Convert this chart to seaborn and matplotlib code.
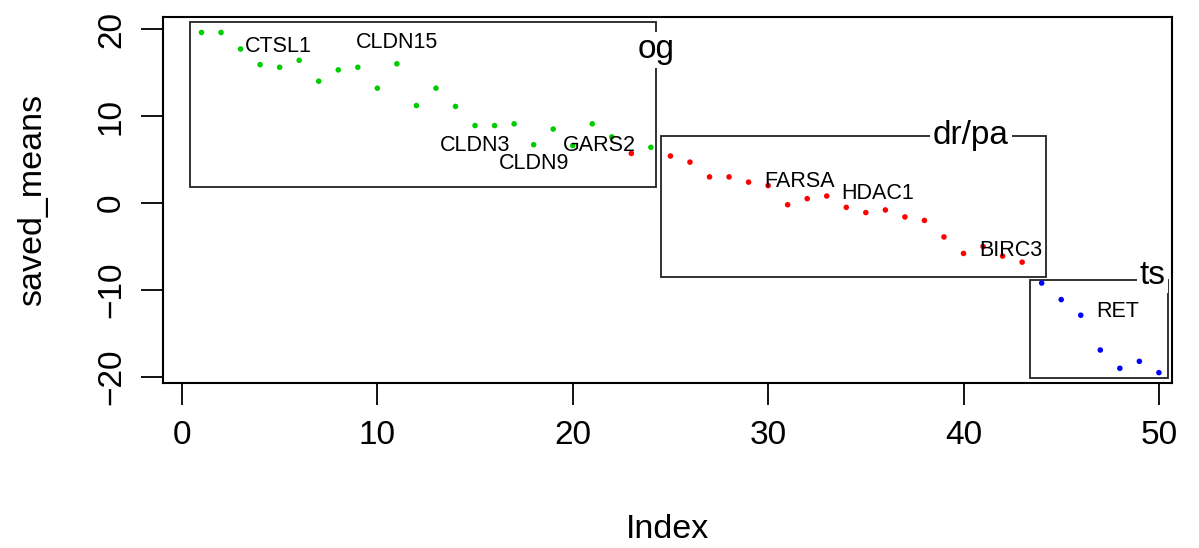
import numpy as np
import pandas as pd
import matplotlib
matplotlib.use("Agg")
import matplotlib.pyplot as plt
from matplotlib.patches import Rectangle
import seaborn as sns

# values (index 1..50)
saved_means = [19.6, 19.6, 17.7, 15.9, 15.6, 16.4, 14.0, 15.3, 15.6, 13.2,
               16.0, 11.2, 13.2, 11.1, 8.9, 8.9, 9.1, 6.7, 8.5, 6.6,
               9.1, 7.6, 5.7, 6.4, 5.4, 4.7, 3.0, 3.0, 2.4, 2.0,
               -0.2, 0.5, 0.8, -0.5, -1.1, -0.8, -1.6, -2.0, -3.9, -5.8,
               -5.0, -6.1, -6.8, -9.2, -11.1, -12.9, -16.9, -19.0, -18.2, -19.5]
groups = (["og"] * 22 + ["dr/pa"] + ["og"] + ["dr/pa"] * 19 + ["ts"] * 7)
group_names = ["og", "dr/pa", "ts"]
group_colors = ["#00CD00", "#FF0000", "#0000FF"]

gene_labels = ["CTSL1", "CLDN15", "CLDN3", "CLDN9", "GARS2",
               "FARSA", "HDAC1", "BIRC3", "RET"]
gene_index = [3, 11, 15, 18, 21, 31, 35, 42, 46]

# label offsets from their point, in pixels (dx, dy up)
label_offsets = [(4.5, 3), (0, 21.4), (0, -20), (0, -18.7), (6.7, -21.3),
                 (12, 23), (12, 18.7), (8.5, 5.3), (15.4, 3.3)]
label_ha = ["left", "center", "center", "center", "center",
            "center", "center", "center", "left"]

# group boxes: (x0, x1, y0, y1) and title position
boxes = [(0.41, 24.26, 1.87, 20.84), (24.51, 44.2, -8.47, 7.74),
         (43.4, 50.44, -20.15, -8.85)]
box_titles = [(24.28, 17.6), (40.38, 7.8), (49.67, -8.28)]

df = pd.DataFrame({"Index": np.arange(1, len(saved_means) + 1),
                   "saved_means": saved_means, "group": groups})

sns.set_style("white")
plt.rcParams["font.family"] = ["Liberation Sans", "DejaVu Sans"]
plt.rcParams["text.color"] = "black"
plt.rcParams["axes.labelcolor"] = "black"
plt.rcParams["xtick.color"] = "black"
plt.rcParams["ytick.color"] = "black"

fig = plt.figure(figsize=(11.99, 5.48), dpi=100)
ax = fig.add_axes([163 / 1199, 165 / 548, 1009 / 1199, 366 / 548])

sns.scatterplot(data=df, x="Index", y="saved_means", hue="group",
                hue_order=group_names, palette=group_colors,
                s=16, linewidth=0, legend=False, ax=ax, zorder=3)

px = 72 / 100  # pixels -> points
for name, idx, (dx, dy), ha in zip(gene_labels, gene_index, label_offsets, label_ha):
    ax.annotate(name, (idx, saved_means[idx - 1]),
                xytext=(dx * px, dy * px), textcoords="offset points",
                ha=ha, va="center", fontsize=15.5, zorder=4)

for (x0, x1, y0, y1), name, (tx, ty) in zip(boxes, group_names, box_titles):
    ax.add_patch(Rectangle((x0, y0), x1 - x0, y1 - y0, fill=False,
                           edgecolor="#222222", linewidth=1.3, zorder=2))
    ax.text(tx, ty, name, ha="center", va="center", fontsize=24, zorder=5,
            bbox=dict(facecolor="white", edgecolor="none", pad=2))

ax.set_xlim(-0.97, 50.67)
ax.set_ylim(-20.69, 21.38)
ax.set_xticks([0, 10, 20, 30, 40, 50])
ax.set_yticks([-20, -10, 0, 10, 20])
ax.tick_params(axis="both", direction="out", length=16, width=1.3,
               labelsize=24, color="black", left=True, bottom=True)
ax.tick_params(axis="x", pad=11)
ax.tick_params(axis="y", pad=10)
for lab in ax.get_yticklabels():
    lab.set_rotation(90)
    lab.set_va("center")
for sp in ax.spines.values():
    sp.set_visible(True)
    sp.set_color("black")
    sp.set_linewidth(1.5)

ax.set_xlabel("Index", fontsize=24.5)
ax.set_ylabel("saved_means", fontsize=24.5)
ax.xaxis.set_label_coords(0.5, (383 - 529) / 366)
ax.xaxis.label.set_va("center")
ax.yaxis.set_label_coords((33 - 163) / 1009, 0.5)
ax.yaxis.label.set_va("center")

fig.savefig("out.png", dpi=100)
